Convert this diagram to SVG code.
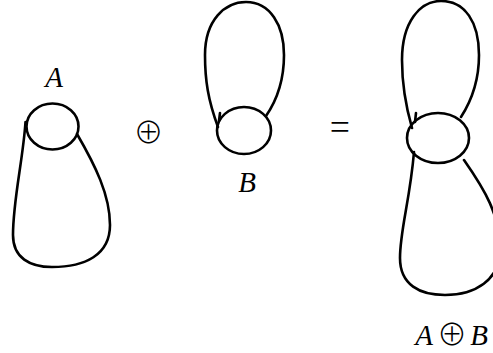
<svg xmlns="http://www.w3.org/2000/svg" width="493" height="353" viewBox="0 0 493 353">
<style>
.s{fill:none;stroke:#000;stroke-width:2.6;stroke-linecap:round}
.t{font-family:"Liberation Serif",serif;font-style:italic;font-size:29px;fill:#000;text-anchor:middle}
.o{font-family:"Noto Sans CJK JP","DejaVu Sans",sans-serif;font-size:30px;font-weight:300;fill:#000;text-anchor:middle}
</style>
<rect width="493" height="353" fill="#fff"/>
<g id="A">
<ellipse class="s" cx="52.5" cy="126.5" rx="26" ry="23"/>
<path class="s" d="M25.5,122 C23,160 13,200 13,235 C13,258 30,267 52,267 C85,267 110,255 110,225 C110,195 95,165 77,134"/>
<text class="t" x="54" y="87">A</text>
</g>
<g id="oplus1"><text class="o" x="148.5" y="143">⊕</text></g>
<g id="B">
<ellipse class="s" cx="244" cy="130.5" rx="27" ry="23.5"/>
<path class="s" d="M218,127 C208,100 205,80 205,55 C205,20 225,2 246,2 C270,2 284,25 284,55 C284,80 277,100 266,116"/>
<path class="s" d="M220,113 L219,121"/>
<text class="t" x="247" y="192">B</text>
</g>
<g id="eq"><text class="o" x="340" y="140" style="font-size:36px">=</text></g>
<g id="AB">
<ellipse class="s" cx="438" cy="138" rx="31" ry="25"/>
<path class="s" d="M412,128 C404,100 402,80 402,60 C402,22 420,1 441,1 C465,1 479,22 479,55 C479,80 472,100 461,117"/>
<path class="s" d="M416,113 L415,122"/>
<path class="s" d="M414,152 C410,200 400,230 400,258 C400,285 420,295 445,295 C475,295 500,280 500,250 C500,215 485,190 464,160"/>
<text class="t" x="424" y="345">A</text>
<text class="o" x="452" y="345">⊕</text>
<text class="t" x="479" y="345">B</text>
</g>
</svg>
